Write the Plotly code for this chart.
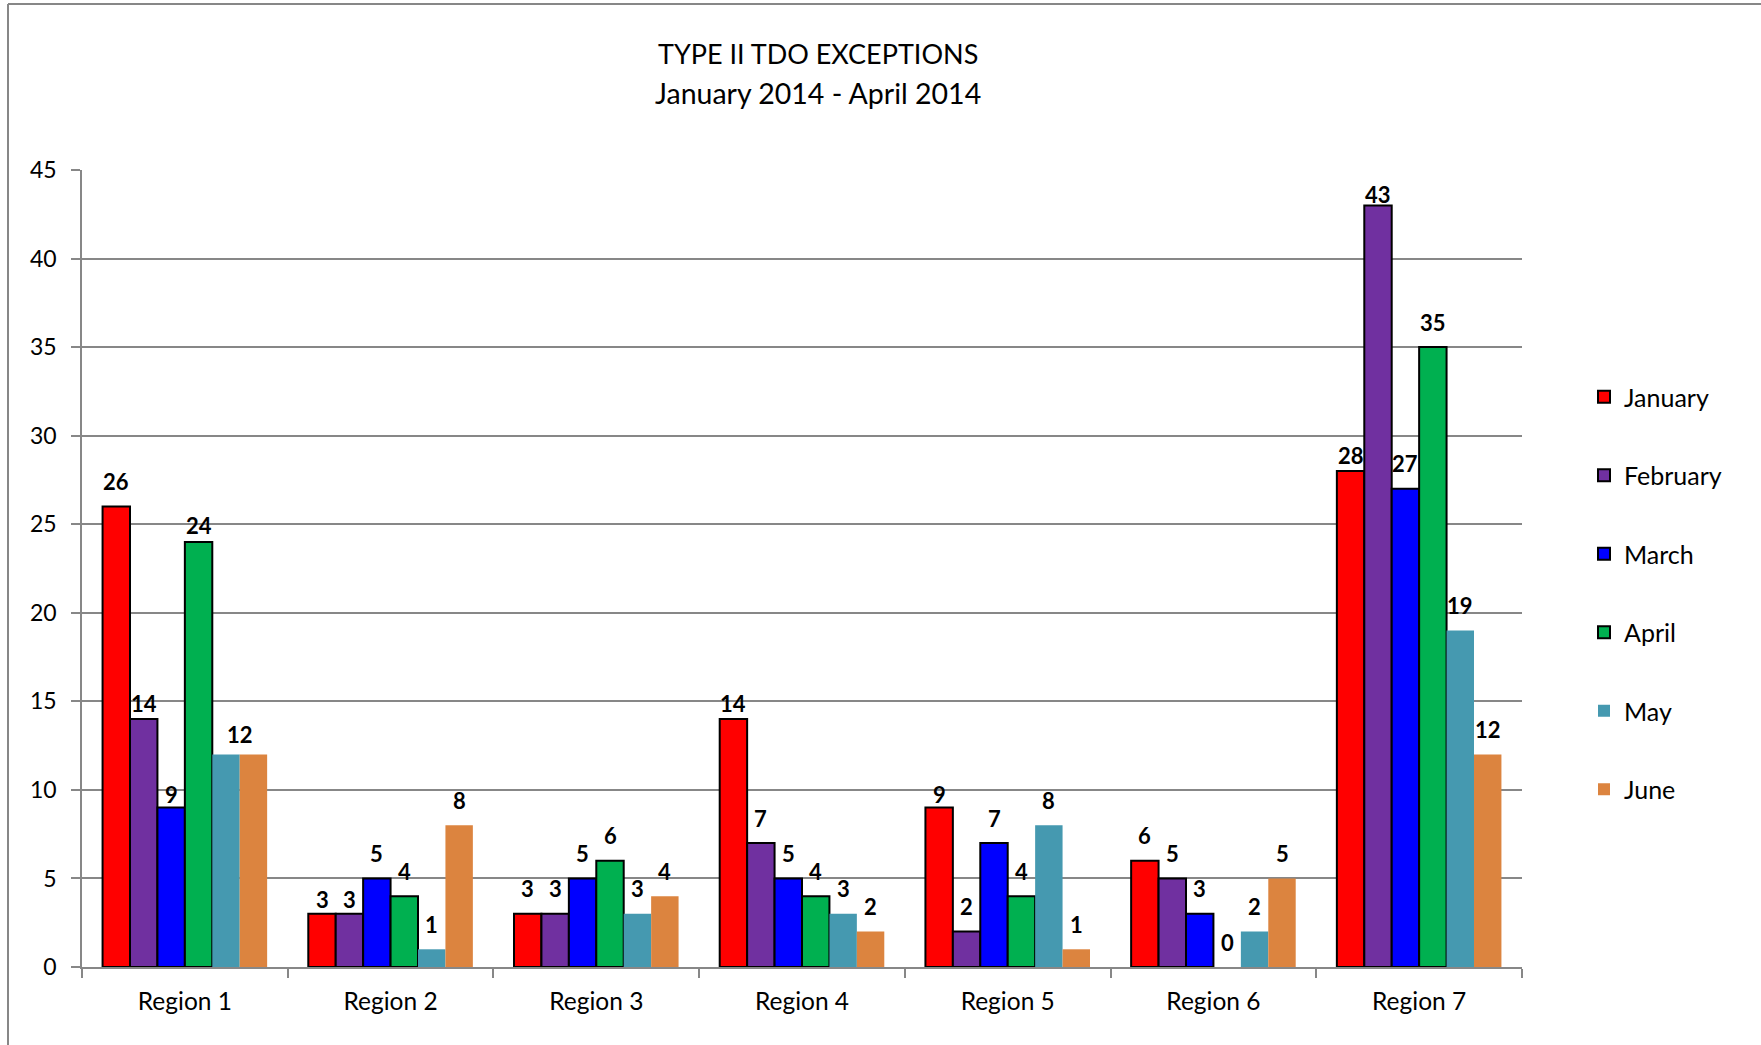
import plotly.graph_objects as go

regions = ["Region 1", "Region 2", "Region 3", "Region 4", "Region 5", "Region 6", "Region 7"]
months = ["January", "February", "March", "April", "May", "June"]

january = [26, 3, 3, 14, 9, 6, 28]
february = [14, 3, 3, 7, 2, 5, 43]
march = [9, 5, 5, 5, 7, 3, 27]
april = [24, 4, 6, 4, 4, 0, 35]
may = [12, 1, 3, 3, 8, 2, 19]
june = [12, 8, 4, 2, 1, 5, 12]

series = [january, february, march, april, may, june]
colors = ["#FF0000", "#7030A0", "#0000FF", "#00B050", "#4599B0", "#DC843F"]
outlined = [True, True, True, True, False, False]

FONT = "Lato, sans-serif"
W, H = 1761, 1045
L, R, T, B = 82, 239, 170, 78
PW, PH = W - L - R, H - T - B

BARGAP = 0.2
n = len(series)
bw = (1 - BARGAP) / n

# label placement tweaks (pixels above bar top, label centre)
DEFAULT_SHIFT = 25
shift_override = {
    (1, 0): 16, (2, 0): 13, (3, 0): 16, (4, 0): 20,
    (0, 1): 14, (1, 1): 14,
    (0, 3): 16,
    (0, 4): 13,
    (0, 6): 16, (1, 6): 11,
}
hidden_labels = {(5, 0)}
xshift_override = {(4, 0): 0.5}  # in bar widths

fig = go.Figure()
for i, (name, vals) in enumerate(zip(months, series)):
    widths = [(2 if (outlined[i] and v != 0) else 0) for v in vals]
    fig.add_trace(go.Bar(
        x=regions, y=vals, name=name,
        marker=dict(color=colors[i],
                    line=dict(color="#000000", width=widths)),
        legendgroup=name,
    ))

annotations = []
for i, vals in enumerate(series):
    for j, v in enumerate(vals):
        if (i, j) in hidden_labels:
            continue
        off = -(1 - BARGAP) / 2 + bw * (i + 0.5) + bw * xshift_override.get((i, j), 0)
        annotations.append(dict(
            x=j + off, y=v, xref="x", yref="y", text=f"<b>{v}</b>",
            showarrow=False, yanchor="middle", xanchor="center",
            yshift=shift_override.get((i, j), DEFAULT_SHIFT),
            font=dict(family=FONT, size=22, color="#000000"),
        ))

annotations.append(dict(
    x=(818 - L) / PW, y=(H - B - 54) / PH, xref="paper", yref="paper",
    text="TYPE II TDO EXCEPTIONS", showarrow=False,
    xanchor="center", yanchor="middle",
    font=dict(family=FONT, size=27, color="#000000"),
))
annotations.append(dict(
    x=(818 - L) / PW, y=(H - B - 93) / PH, xref="paper", yref="paper",
    text="January 2014 - April 2014", showarrow=False,
    xanchor="center", yanchor="middle",
    font=dict(family=FONT, size=28.5, color="#000000"),
))

GRID = "#878787"
shapes = [
    dict(type="line", xref="paper", yref="paper",
         x0=(8 - L) / PW, x1=(W + 10 - L) / PW,
         y0=(H - B - 4) / PH, y1=(H - B - 4) / PH,
         line=dict(color=GRID, width=2)),
    dict(type="line", xref="paper", yref="paper",
         x0=(8 - L) / PW, x1=(8 - L) / PW,
         y0=(H - B - 4) / PH, y1=(H - B - H - 10) / PH,
         line=dict(color=GRID, width=2)),
]

fig.update_layout(
    width=W, height=H,
    margin=dict(l=L, r=R, t=T, b=B, pad=0),
    paper_bgcolor="white", plot_bgcolor="white",
    barmode="group", bargap=BARGAP, bargroupgap=0,
    font=dict(family=FONT, color="#000000"),
    annotations=annotations, shapes=shapes,
    showlegend=True,
    legend=dict(
        x=(1584 - L) / PW, y=(H - B - 374) / PH, xanchor="left", yanchor="top",
        font=dict(family=FONT, size=25, color="#000000"),
        tracegroupgap=43, bgcolor="rgba(0,0,0,0)", traceorder="grouped",
    ),
)
fig.update_yaxes(
    range=[0, 45], dtick=5, tick0=0,
    showgrid=True, gridcolor=GRID, gridwidth=1.5,
    showline=True, linecolor=GRID, linewidth=1.5,
    ticks="outside", ticklen=9, tickcolor=GRID, tickwidth=1.5,
    ticklabelstandoff=10,
    tickfont=dict(family=FONT, size=23, color="#000000"),
    zeroline=False,
)
fig.update_xaxes(
    showline=True, linecolor=GRID, linewidth=1.5,
    ticks="outside", ticklen=9, tickcolor=GRID, tickwidth=1.5,
    tickson="boundaries", ticklabelstandoff=12,
    tickfont=dict(family=FONT, size=24.5, color="#000000"),
    showgrid=False,
)

fig.write_html("out.html")
